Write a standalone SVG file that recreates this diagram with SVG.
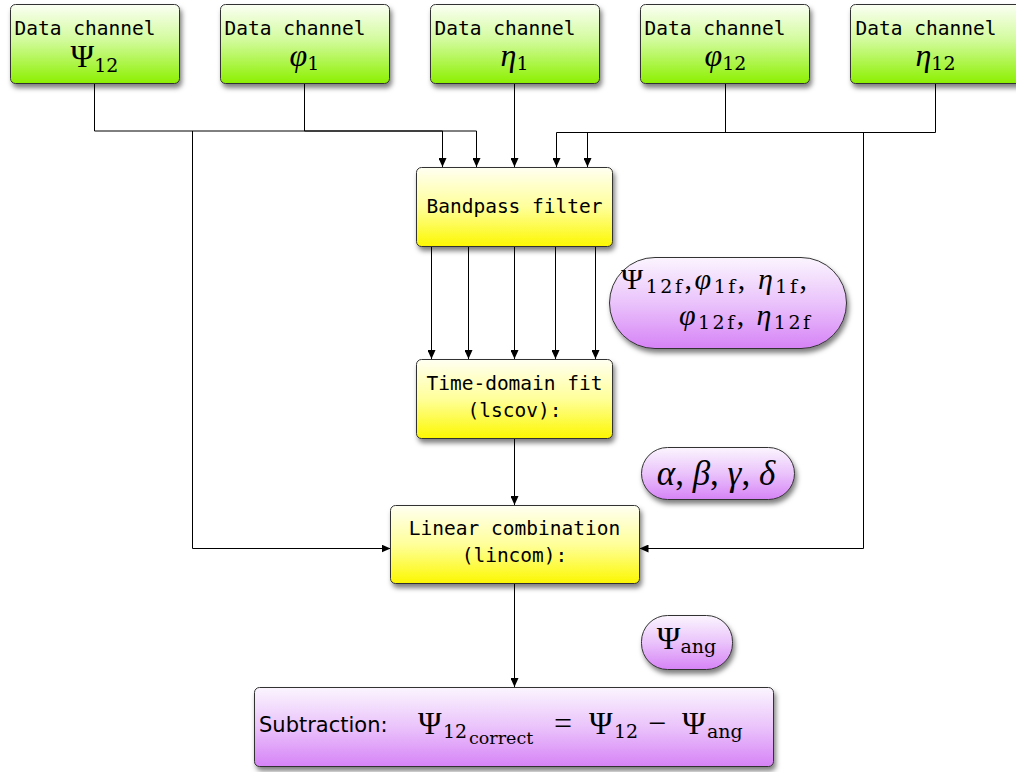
<svg xmlns="http://www.w3.org/2000/svg" width="1016" height="772" viewBox="0 0 1016 772">
<defs>
<linearGradient id="gGreen" x1="0" y1="0" x2="0" y2="1">
<stop offset="0" stop-color="#fbfff4"/>
<stop offset="0.45" stop-color="#d2fb9c"/>
<stop offset="1" stop-color="#8cf000"/>
</linearGradient>
<linearGradient id="gYellow" x1="0" y1="0" x2="0" y2="1">
<stop offset="0" stop-color="#fffff2"/>
<stop offset="0.5" stop-color="#ffff9a"/>
<stop offset="1" stop-color="#fcf700"/>
</linearGradient>
<linearGradient id="gPurple" x1="0" y1="0" x2="0" y2="1">
<stop offset="0" stop-color="#fbf5fe"/>
<stop offset="0.5" stop-color="#eac3fb"/>
<stop offset="1" stop-color="#d683f6"/>
</linearGradient>
<filter id="sh" x="-10%" y="-10%" width="130%" height="140%">
<feDropShadow dx="2" dy="4" stdDeviation="2.5" flood-color="#000" flood-opacity="0.5"/>
</filter>
<marker id="arr" markerUnits="userSpaceOnUse" markerWidth="10" markerHeight="8" refX="9" refY="4" orient="auto">
<path d="M0,0 L9,4 L0,8 z" fill="#000"/>
</marker>
<style>
.box{stroke:#333;stroke-width:1;filter:url(#sh)}
.green{fill:url(#gGreen)}
.yellow{fill:url(#gYellow)}
.purple{fill:url(#gPurple)}
.mono{font-family:"DejaVu Sans Mono","Liberation Mono",monospace;font-size:19.5px;fill:#000}
.sans{font-family:"DejaVu Sans","Liberation Sans",sans-serif;font-size:21px;fill:#000}
.m{font-family:"Liberation Serif","DejaVu Serif",serif;font-size:32px;fill:#000}
.p{font-size:30px}
.s{font-family:"DejaVu Serif","Liberation Serif",serif;font-size:19px;font-style:normal}
.ss{font-family:"DejaVu Serif","Liberation Serif",serif;font-size:17.5px}
.i{font-style:italic}
.conn path{fill:none;stroke:#000;stroke-width:1}
</style>
</defs>

<g id="connectors" class="conn">
<path d="M94.5 83 V131 H442.5 V167" marker-end="url(#arr)"/>
<path d="M304.5 83 V131 H476.5 V167" marker-end="url(#arr)"/>
<path d="M192.5 131 V548.5 H390.5" marker-end="url(#arr)"/>
<path d="M514.5 83 V167" marker-end="url(#arr)"/>
<path d="M725.5 83 V132.5 H556.5 V167" marker-end="url(#arr)"/>
<path d="M935.5 83 V132.5 H587.5 V167" marker-end="url(#arr)"/>
<path d="M863.5 132.5 V548.5 H639.5" marker-end="url(#arr)"/>
<path d="M431.5 247 V359" marker-end="url(#arr)"/>
<path d="M468.5 247 V359" marker-end="url(#arr)"/>
<path d="M514.5 247 V359" marker-end="url(#arr)"/>
<path d="M555.5 247 V359" marker-end="url(#arr)"/>
<path d="M595.5 247 V359" marker-end="url(#arr)"/>
<path d="M514.5 438 V505" marker-end="url(#arr)"/>
<path d="M514.5 584 V687" marker-end="url(#arr)"/>
</g>

<g id="ch-psi12">
<rect class="box green" x="10.5" y="4.5" width="169" height="79" rx="5"/>
<text class="mono" x="14.5" y="35">Data channel</text>
<text class="m" x="94.5" y="67" text-anchor="middle"><tspan>Ψ</tspan><tspan class="s" dy="5">12</tspan></text>
</g>
<g id="ch-phi1">
<rect class="box green" x="220.5" y="4.5" width="169" height="79" rx="5"/>
<text class="mono" x="224.5" y="35">Data channel</text>
<text class="m" x="304.5" y="66" text-anchor="middle"><tspan class="i">φ</tspan><tspan class="s" dy="4">1</tspan></text>
</g>
<g id="ch-eta1">
<rect class="box green" x="430.5" y="4.5" width="169" height="79" rx="5"/>
<text class="mono" x="434.5" y="35">Data channel</text>
<text class="m" x="514.5" y="66" text-anchor="middle"><tspan class="i">η</tspan><tspan class="s" dy="4">1</tspan></text>
</g>
<g id="ch-phi12">
<rect class="box green" x="640.5" y="4.5" width="169" height="79" rx="5"/>
<text class="mono" x="644.5" y="35">Data channel</text>
<text class="m" x="725.5" y="66" text-anchor="middle"><tspan class="i">φ</tspan><tspan class="s" dy="4">12</tspan></text>
</g>
<g id="ch-eta12">
<rect class="box green" x="850.5" y="4.5" width="172" height="79" rx="5"/>
<text class="mono" x="855.5" y="35">Data channel</text>
<text class="m" x="935.5" y="66" text-anchor="middle"><tspan class="i">η</tspan><tspan class="s" dy="4">12</tspan></text>
</g>

<g id="bandpass">
<rect class="box yellow" x="416.5" y="167.5" width="196" height="79" rx="5"/>
<text class="mono" x="514.5" y="213" text-anchor="middle">Bandpass filter</text>
</g>

<g id="filtered">
<rect class="box purple" x="609.5" y="257.5" width="237" height="91" rx="45.5"/>
<text class="m p" x="621" y="289" textLength="186" lengthAdjust="spacing"><tspan>Ψ</tspan><tspan class="s" dy="4">12f</tspan><tspan dy="-4">,</tspan><tspan class="i">φ</tspan><tspan class="s" dy="4">1f</tspan><tspan dy="-4">, </tspan><tspan class="i">η</tspan><tspan class="s" dy="4">1f</tspan><tspan dy="-4">,</tspan></text>
<text class="m p" x="679" y="325" textLength="131" lengthAdjust="spacing"><tspan class="i">φ</tspan><tspan class="s" dy="4">12f</tspan><tspan dy="-4">, </tspan><tspan class="i">η</tspan><tspan class="s" dy="4">12f</tspan></text>
</g>

<g id="timefit">
<rect class="box yellow" x="416.5" y="359.5" width="196" height="79" rx="5"/>
<text class="mono" x="514.5" y="390" text-anchor="middle">Time-domain fit</text>
<text class="mono" x="514.5" y="417" text-anchor="middle">(lscov):</text>
</g>

<g id="coeffs">
<rect class="box purple" x="641.5" y="447.5" width="153" height="52" rx="26"/>
<text class="m" x="716" y="485" text-anchor="middle" style="font-size:35px"><tspan class="i">α</tspan>, <tspan class="i">β</tspan>, <tspan class="i">γ</tspan>, <tspan class="i">δ</tspan></text>
</g>

<g id="lincom">
<rect class="box yellow" x="390.5" y="505.5" width="249" height="78" rx="5"/>
<text class="mono" x="514.5" y="535" text-anchor="middle">Linear combination</text>
<text class="mono" x="514.5" y="562" text-anchor="middle">(lincom):</text>
</g>

<g id="psiang">
<rect class="box purple" x="641.5" y="615.5" width="91" height="54" rx="26"/>
<text class="m" x="686.5" y="649" text-anchor="middle"><tspan>Ψ</tspan><tspan class="s" dy="4">ang</tspan></text>
</g>

<g id="subtraction">
<rect class="box purple" x="254.5" y="687.5" width="519" height="79" rx="5"/>
<text class="sans" x="259" y="732">Subtraction:</text>
<text class="m" x="418" y="734">Ψ</text>
<text class="m s" x="443" y="738">12</text>
<text class="m ss" x="469" y="744">correct</text>
<text class="m" x="554" y="734">=</text>
<text class="m" x="589" y="734">Ψ</text>
<text class="m s" x="614" y="738">12</text>
<text class="m" x="648" y="734">−</text>
<text class="m" x="682" y="734">Ψ</text>
<text class="m s" x="707" y="738">ang</text>
</g>
</svg>
